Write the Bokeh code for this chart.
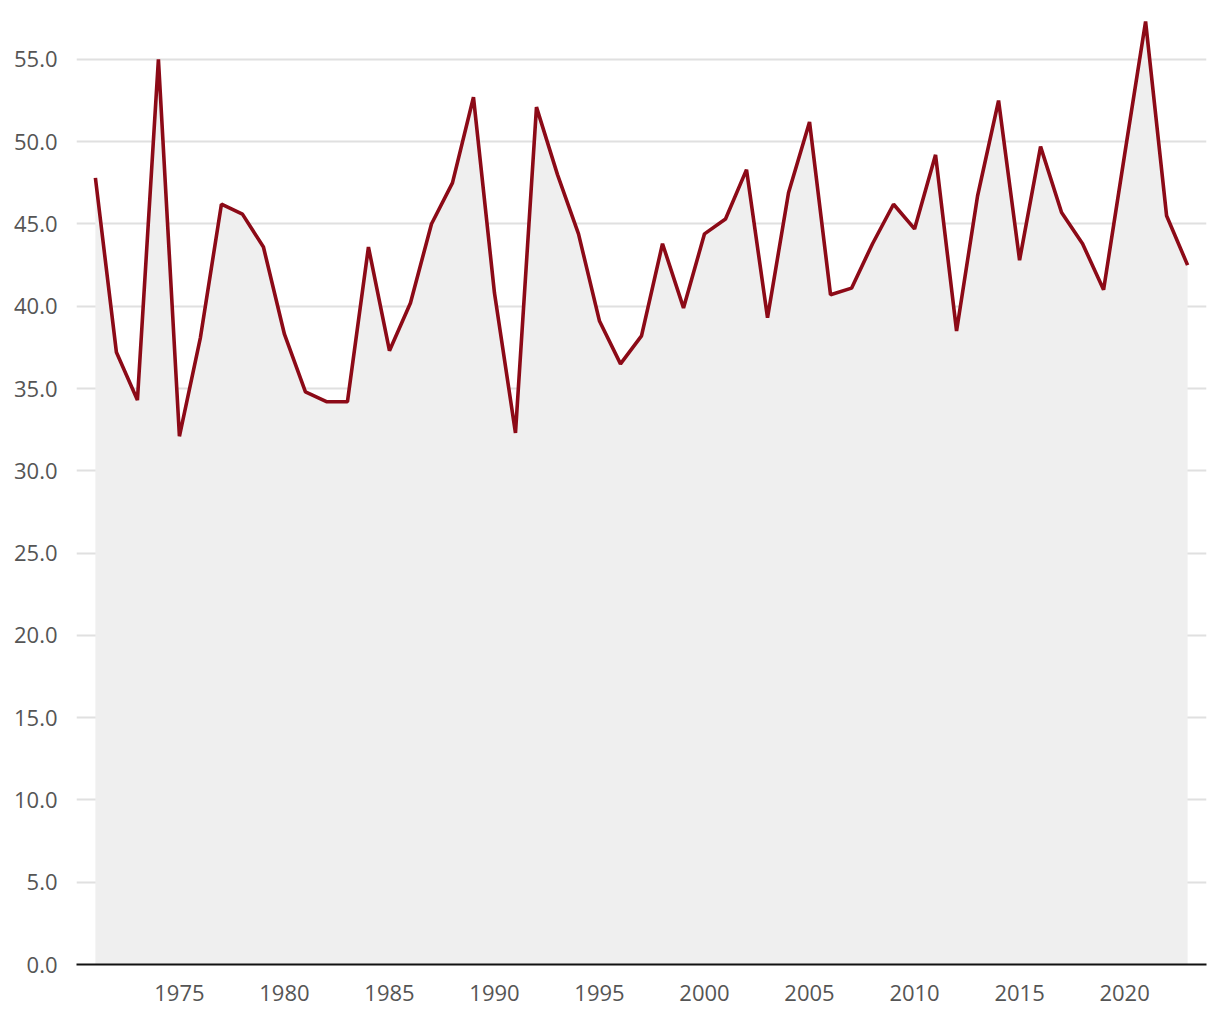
from bokeh.plotting import figure
from bokeh.embed import file_html
from bokeh.resources import INLINE
from bokeh.models import Range1d, FixedTicker, NumeralTickFormatter

years = list(range(1971, 2024))
values = [47.8, 37.2, 34.3, 55.0, 32.1, 38.1, 46.2, 45.6, 43.6, 38.3,
          34.8, 34.2, 34.2, 43.6, 37.3, 40.2, 45.0, 47.5, 52.7, 40.8,
          32.3, 52.1, 48.0, 44.4, 39.1, 36.5, 38.2, 43.8, 39.9, 44.4,
          45.3, 48.3, 39.3, 46.9, 51.2, 40.7, 41.1, 43.8, 46.2, 44.7,
          49.2, 38.5, 46.7, 52.5, 42.8, 49.7, 45.7, 43.8, 41.0, 49.2,
          57.3, 45.5, 42.5]
x_ticks = [1975, 1980, 1985, 1990, 1995, 2000, 2005, 2010, 2015, 2020]
y_ticks = [0, 5, 10, 15, 20, 25, 30, 35, 40, 45, 50, 55]

p = figure(width=1220, height=1020, output_backend="svg", toolbar_location=None,
           x_range=Range1d(1970.1, 2023.9), y_range=Range1d(0, 58.58),
           min_border_left=76, min_border_right=14, min_border_top=0, min_border_bottom=56)
p.outline_line_color = None
p.background_fill_color = "white"

p.varea(x=years, y1=[0] * len(values), y2=values, fill_color="#efefef")
p.line(x=years, y=values, line_color="#8c0a17", line_width=3.6)

font = "Open Sans"
p.xaxis.ticker = FixedTicker(ticks=x_ticks)
p.yaxis.ticker = FixedTicker(ticks=y_ticks)
p.yaxis.formatter = NumeralTickFormatter(format="0.0")
for ax in (p.xaxis[0], p.yaxis[0]):
    ax.major_label_text_font = font
    ax.major_label_text_font_size = "22px"
    ax.major_label_text_color = "#555555"
    ax.major_tick_line_color = None
    ax.minor_tick_line_color = None
p.yaxis.axis_line_color = None
p.yaxis.major_label_standoff = 13
p.xaxis.axis_line_color = "#111111"
p.xaxis.axis_line_width = 2
p.xaxis.major_label_standoff = 14

p.xgrid.grid_line_color = None
p.ygrid.grid_line_color = "#e0e0e0"
p.ygrid.grid_line_width = 2

open("out.html", "w").write(file_html(p, INLINE))
